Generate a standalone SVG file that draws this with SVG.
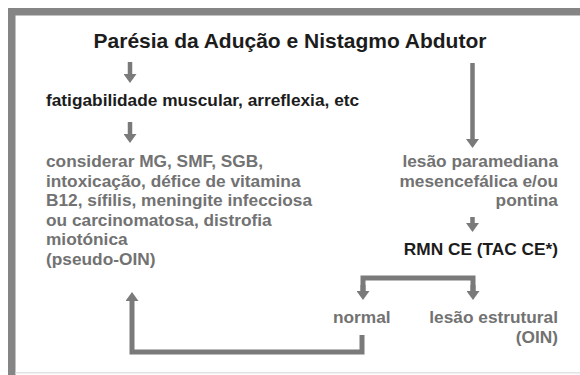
<svg xmlns="http://www.w3.org/2000/svg" width="580" height="375" viewBox="0 0 580 375">
<style>
text{font-family:"Liberation Sans",Arial,sans-serif;font-weight:bold;font-size:17.3px}
.dark{fill:#1c1c1c}
.gray{fill:#727272}
.title{font-size:21px}
.r{text-anchor:end}
.conn{fill:none;stroke:#7a7a7a;stroke-width:5}
.thin{stroke-width:4.5}
</style>
<defs>
<marker id="ah" markerUnits="userSpaceOnUse" markerWidth="9" markerHeight="13" viewBox="0 0 9 13" refX="1" refY="6.5" orient="auto">
<path d="M0,0 L9,6.5 L0,13 z" fill="#7a7a7a"/>
</marker>
</defs>
<rect width="580" height="375" fill="#ffffff"/>
<g id="frame">
<rect x="8" y="8" width="572" height="7.5" fill="#858585"/>
<rect x="8" y="8" width="7.5" height="367" fill="#858585"/>
<rect x="15.5" y="372" width="564.5" height="1.5" fill="#e2e2e2"/>
</g>
<g id="connectors">
<path class="conn thin" d="M130,62 V75" marker-end="url(#ah)"/>
<path class="conn thin" d="M130,122 V135" marker-end="url(#ah)"/>
<path class="conn thin" d="M472.5,63 V140" marker-end="url(#ah)"/>
<path class="conn thin" d="M472.5,217 V224" marker-end="url(#ah)"/>
<path class="conn" d="M363,292 V278 H473 V292"/>
<path class="conn" d="M363,285 V292" marker-end="url(#ah)"/>
<path class="conn" d="M473,285 V292" marker-end="url(#ah)"/>
<path class="conn" d="M362,335 V352 H132 V300" marker-end="url(#ah)"/>
</g>
<g id="title"><text class="dark title" x="290" y="48" text-anchor="middle">Parésia da Adução e Nistagmo Abdutor</text></g>
<g id="fatigabilidade"><text class="dark" x="46" y="106">fatigabilidade muscular, arreflexia, etc</text></g>
<g id="considerar">
<text class="gray" x="46" y="167">considerar MG, SMF, SGB,</text>
<text class="gray" x="46" y="186.5">intoxicação, défice de vitamina</text>
<text class="gray" x="46" y="206">B12, sífilis, meningite infecciosa</text>
<text class="gray" x="46" y="225.5">ou carcinomatosa, distrofia</text>
<text class="gray" x="46" y="245">miotónica</text>
<text class="gray" x="46" y="264.5">(pseudo-OIN)</text>
</g>
<g id="lesao-paramediana">
<text class="gray r" x="558" y="167">lesão paramediana</text>
<text class="gray r" x="558" y="186.5">mesencefálica e/ou</text>
<text class="gray r" x="558" y="206">pontina</text>
</g>
<g id="rmn"><text class="dark r" x="558" y="255">RMN CE (TAC CE*)</text></g>
<g id="normal"><text class="gray" x="333" y="323">normal</text></g>
<g id="lesao-estrutural">
<text class="gray r" x="558" y="323">lesão estrutural</text>
<text class="gray r" x="558" y="343">(OIN)</text>
</g>
</svg>
